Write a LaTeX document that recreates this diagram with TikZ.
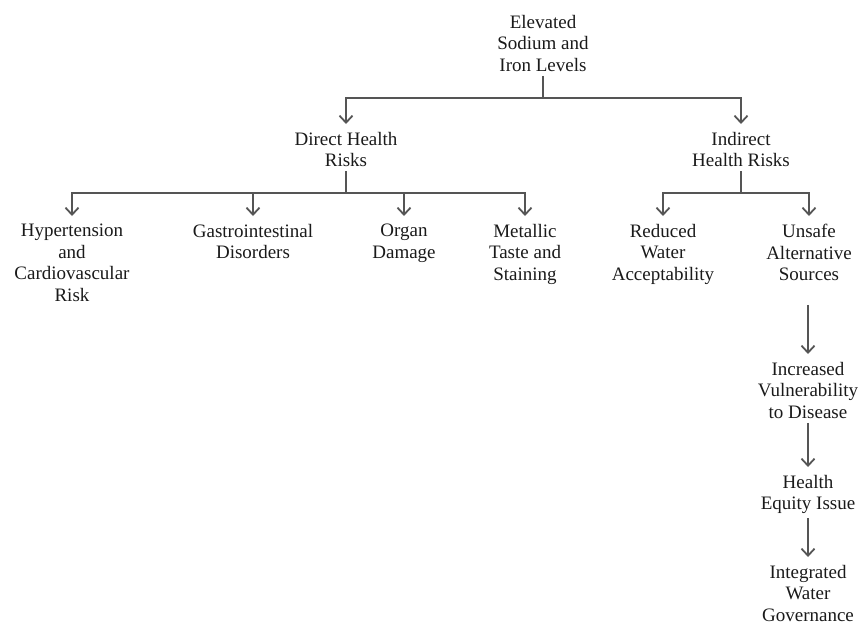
\documentclass[tikz,border=0pt]{standalone}
\usepackage{fontspec}
\setmainfont{Liberation Serif}
\usetikzlibrary{arrows.meta}
\definecolor{linegray}{HTML}{555555}
\definecolor{textgray}{HTML}{1A1A1A}
\tikzset{
  lbl/.style={align=center, anchor=north, inner xsep=0pt, inner ysep=4pt,
    text=textgray, font=\fontsize{19}{21.5}\selectfont},
  conn/.style={draw=linegray, line width=1.8pt},
  arr/.style={conn, -{Straight Barb[length=7pt,width=13pt,line width=1.8pt]}, shorten >=4pt},
}
\begin{document}
\begin{tikzpicture}[x=1pt,y=1pt]
\useasboundingbox (0,0) rectangle (859,-624);
\node[lbl] (root) at (543,-11) {Elevated\\Sodium and\\Iron Levels};
\node[lbl] (direct) at (346,-128) {Direct Health\\Risks};
\node[lbl] (indirect) at (741,-128) {Indirect\\Health Risks};
\node[lbl] (hyp) at (72,-220) {Hypertension\\and\\Cardiovascular\\Risk};
\node[lbl] (gas) at (253,-220) {Gastrointestinal\\Disorders};
\node[lbl] (organ) at (404,-220) {Organ\\Damage};
\node[lbl] (metal) at (525,-220) {Metallic\\Taste and\\Staining};
\node[lbl] (reduced) at (663,-220) {Reduced\\Water\\Acceptability};
\node[lbl] (unsafe) at (809,-220) {Unsafe\\Alternative\\Sources};
\node[lbl] (incr) at (808,-358) {Increased\\Vulnerability\\to Disease};
\node[lbl] (equity) at (808,-471) {Health\\Equity Issue};
\node[lbl] (integ) at (808,-561) {Integrated\\Water\\Governance};

\draw[conn] (root.south) -- (root.south |- 0,-98) coordinate (j1);
\draw[arr] (j1) -| (direct.north);
\draw[arr] (j1) -| (indirect.north);

\draw[conn] (direct.south) -- (direct.south |- 0,-193) coordinate (j2);
\draw[arr] (j2) -| (hyp.north);
\draw[arr] (j2) -| (gas.north);
\draw[arr] (j2) -| (organ.north);
\draw[arr] (j2) -| (metal.north);

\draw[conn] (indirect.south) -- (indirect.south |- 0,-193) coordinate (j3);
\draw[arr] (j3) -| (reduced.north);
\draw[arr] (j3) -| (unsafe.north);

\draw[arr, shorten <=20pt] (incr.north |- unsafe.south) -- (incr.north);
\draw[arr] (incr.south) -- (equity.north);
\draw[arr] (equity.south) -- (integ.north);
\end{tikzpicture}
\end{document}
